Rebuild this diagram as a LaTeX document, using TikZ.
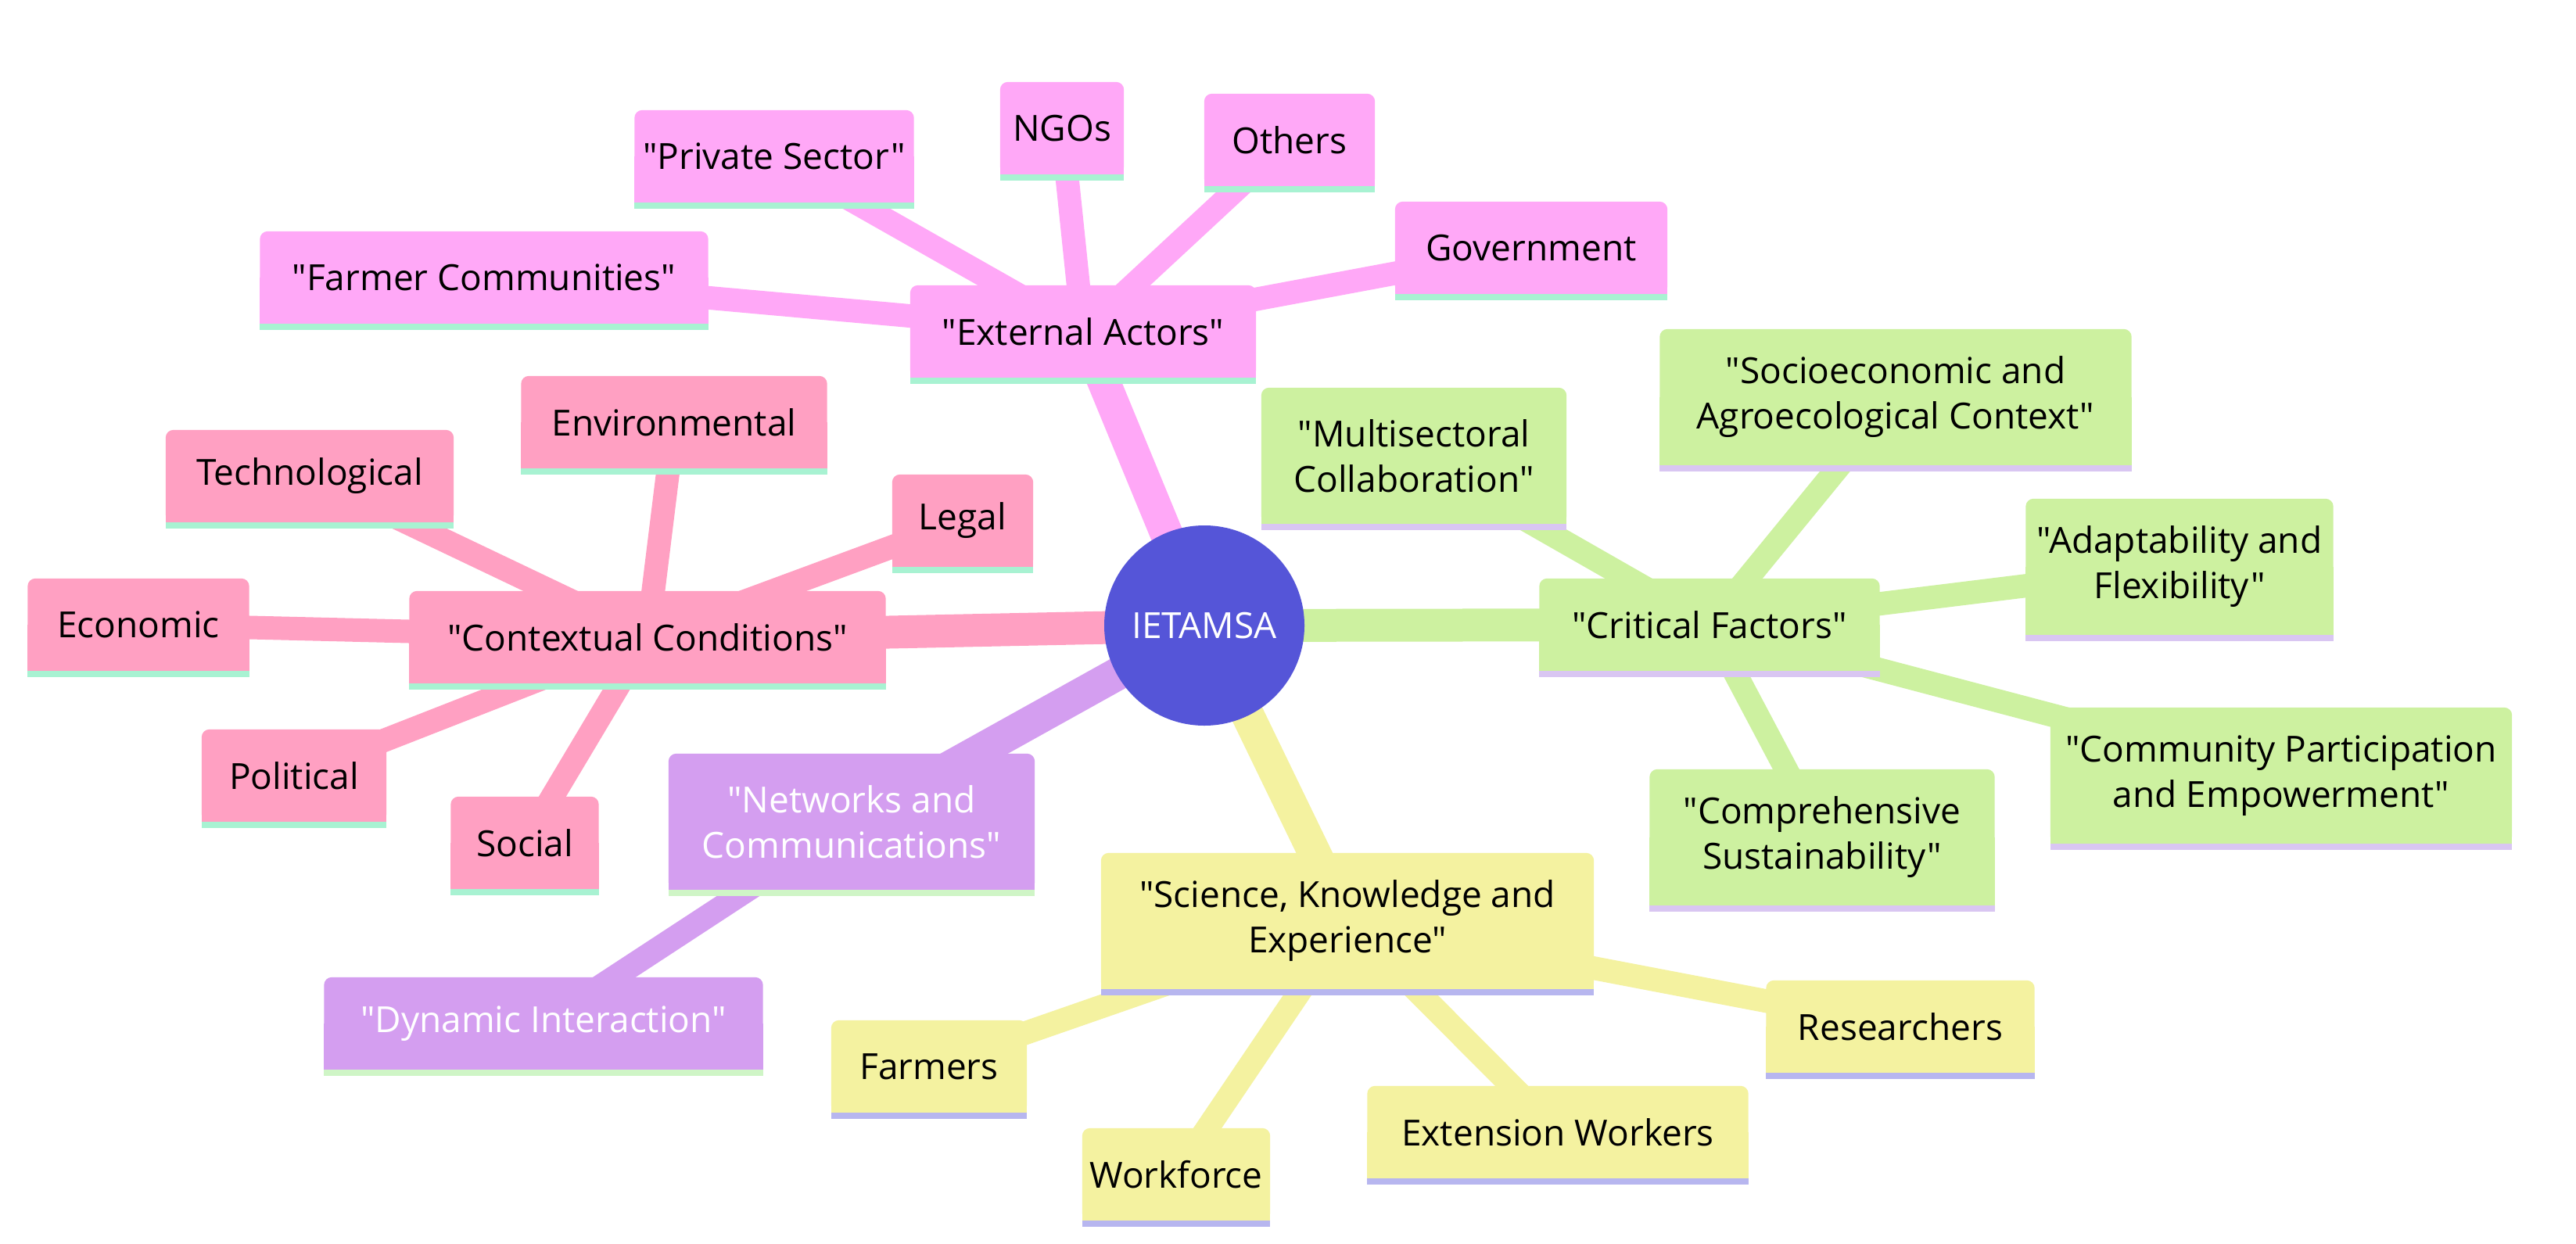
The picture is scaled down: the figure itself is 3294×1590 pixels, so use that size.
\documentclass[tikz,border=0pt]{standalone}
\usepackage{fontspec}
\newfontfamily\osf{Open Sans}
\usetikzlibrary{backgrounds}
\definecolor{cExt}{HTML}{FFA8F7}
\definecolor{cCtx}{HTML}{FFA0C2}
\definecolor{cNet}{HTML}{D49EF0}
\definecolor{cCrit}{HTML}{CDF1A0}
\definecolor{cSci}{HTML}{F4F2A0}
\definecolor{cRoot}{HTML}{5555D8}
\definecolor{uMint}{HTML}{A8F2D2}
\definecolor{uNet}{HTML}{CFF5C6}
\definecolor{uCrit}{HTML}{D9C6F2}
\definecolor{uSci}{HTML}{B7B6EF}
\newcommand\boxbg[3]{%
  \fill[#2, rounded corners=10pt] (#1.south west) rectangle (#1.north east);
  \fill[#2] (#1.south west) rectangle (#1.east);
  \fill[#3] (#1.south west) rectangle ([yshift=-8pt]#1.south east);
}
\tikzset{
  box/.style={inner sep=0pt, align=center, minimum height=118pt, text=black,
    font=\osf\fontsize{46pt}{58pt}\selectfont},
  tall/.style={box, minimum height=174pt},
  mainedge/.style={line width=42pt},
  subedge/.style={line width=30pt},
}
\begin{document}
\begin{tikzpicture}[x=1pt, y=-1pt]
\useasboundingbox (0,0) rectangle (3294,1590);

% root
\node[circle, fill=cRoot, minimum size=256pt, inner sep=0pt, text=white,
  font=\osf\fontsize{46pt}{58pt}\selectfont] (root) at (1540,800) {IETAMSA};

% External Actors group
\node[box, minimum width=442pt] (ext) at (1385,424) {"External Actors"};
\node[box, minimum width=357pt] (priv) at (990,200) {"Private Sector"};
\node[box, minimum width=158pt] (ngo) at (1358,164) {NGOs};
\node[box, minimum width=218pt] (oth) at (1649,179) {Others};
\node[box, minimum width=348pt] (gov) at (1958,317) {Government};
\node[box, minimum width=573pt] (farmc) at (619,355) {"Farmer Communities"};

% Contextual Conditions group
\node[box, minimum width=609pt] (ctx) at (828,815) {"Contextual Conditions"};
\node[box, minimum width=368pt] (tech) at (396,609) {Technological};
\node[box, minimum width=391pt] (env) at (862,540) {Environmental};
\node[box, minimum width=180pt] (legal) at (1231,666) {Legal};
\node[box, minimum width=283pt] (econ) at (177,799) {Economic};
\node[box, minimum width=236pt] (pol) at (376,992) {Political};
\node[box, minimum width=189pt] (soc) at (671,1078) {Social};

% Networks group
\node[tall, minimum width=468pt, text=white] (net) at (1089,1051) {"Networks and\\Communications"};
\node[box, minimum width=561pt, text=white] (dyn) at (695,1309) {"Dynamic Interaction"};

% Critical Factors group
\node[box, minimum width=435pt] (crit) at (2186,799) {"Critical Factors"};
\node[tall, minimum width=390pt] (multi) at (1808,583) {"Multisectoral\\Collaboration"};
\node[tall, minimum width=603pt] (socio) at (2424,508) {"Socioeconomic and\\Agroecological Context"};
\node[tall, minimum width=393pt] (adapt) at (2787,725) {"Adaptability and\\Flexibility"};
\node[tall, minimum width=590pt] (comm) at (2917,992) {"Community Participation\\and Empowerment"};
\node[tall, minimum width=441pt] (compr) at (2330,1071) {"Comprehensive\\Sustainability"};

% Science group
\node[tall, minimum width=630pt] (sci) at (1723,1178) {"Science, Knowledge and\\Experience"};
\node[box, minimum width=250pt] (farmers) at (1188,1364) {Farmers};
\node[box, minimum width=240pt] (work) at (1504,1502) {Workforce};
\node[box, minimum width=487pt] (extw) at (1992,1448) {Extension Workers};
\node[box, minimum width=343pt] (res) at (2430,1313) {Researchers};

\begin{scope}[on background layer]
  \fill[white] (0,0) rectangle (3294,1590);
  % child edges
  \foreach \c in {priv,ngo,oth,gov,farmc}
    \draw[subedge, cExt] (ext.center) -- (\c.center);
  \foreach \c in {tech,env,legal,econ,pol,soc}
    \draw[subedge, cCtx] (ctx.center) -- (\c.center);
  \draw[subedge, cNet] (net.center) -- (dyn.center);
  \foreach \c in {multi,socio,adapt,comm,compr}
    \draw[subedge, cCrit] (crit.center) -- (\c.center);
  \foreach \c in {farmers,work,extw,res}
    \draw[subedge, cSci] (sci.center) -- (\c.center);
  % main edges
  \draw[mainedge, cExt] (root.center) -- (ext.center);
  \draw[mainedge, cCtx] (root.center) -- (ctx.center);
  \draw[mainedge, cNet] (root.center) -- (net.center);
  \draw[mainedge, cCrit] (root.center) -- (crit.center);
  \draw[mainedge, cSci] (root.center) -- (sci.center);
  % boxes
  \foreach \n in {ext,priv,ngo,oth,gov,farmc} {\boxbg{\n}{cExt}{uMint}}
  \foreach \n in {ctx,tech,env,legal,econ,pol,soc} {\boxbg{\n}{cCtx}{uMint}}
  \foreach \n in {net,dyn} {\boxbg{\n}{cNet}{uNet}}
  \foreach \n in {crit,multi,socio,adapt,comm,compr} {\boxbg{\n}{cCrit}{uCrit}}
  \foreach \n in {sci,farmers,work,extw,res} {\boxbg{\n}{cSci}{uSci}}
\end{scope}
\end{tikzpicture}
\end{document}
